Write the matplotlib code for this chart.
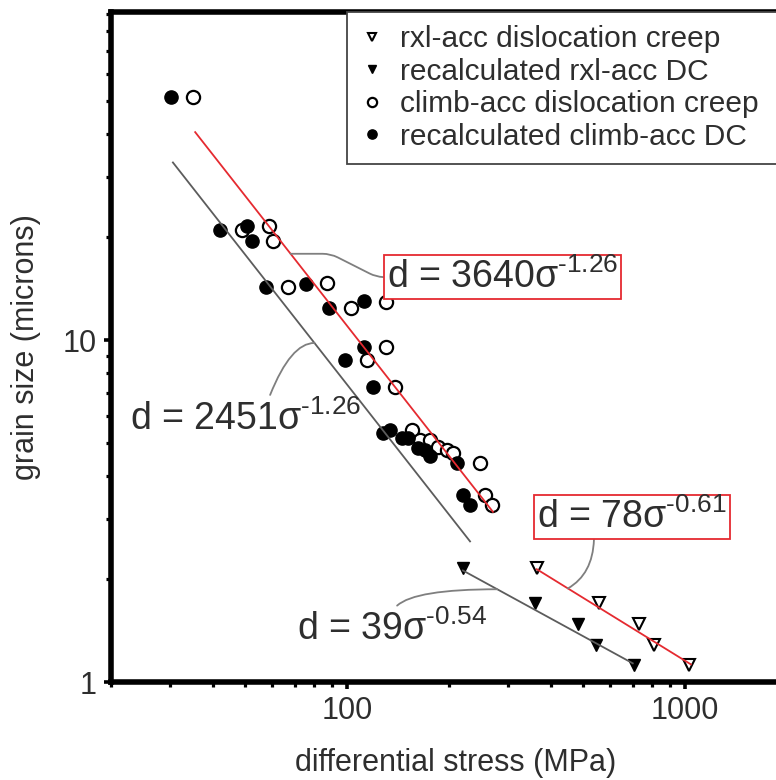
import matplotlib
matplotlib.use("Agg")
import matplotlib.pyplot as plt
import numpy as np
from matplotlib import ticker

plt.rcParams['font.family'] = ['Liberation Sans', 'DejaVu Sans']
plt.rcParams['mathtext.fontset'] = 'custom'
plt.rcParams['mathtext.rm'] = 'Liberation Sans'
plt.rcParams['mathtext.it'] = 'Liberation Sans'
plt.rcParams['mathtext.default'] = 'regular'

# climb-accommodated dislocation creep (stress in MPa, grain size in microns)
climb_stress = [35.0, 48.9, 58.8, 60.4, 66.9, 87.3, 102.8, 130.4, 130.4, 114.6,
                138.7, 155.7, 164.4, 176.0, 185.9, 197.6, 205.9, 247.5, 256.1, 268.5]
climb_size = [51.3, 21.0, 21.5, 19.5, 14.3, 14.7, 12.4, 12.9, 9.57, 8.74,
              7.29, 5.47, 5.10, 5.10, 4.87, 4.77, 4.67, 4.37, 3.52, 3.29]

# recalculated climb-accommodated DC
climb_re_stress = [30.2, 42.1, 50.6, 52.3, 57.6, 75.6, 88.5, 112.3, 112.3, 98.6, 119.4,
                   127.8, 134.0, 145.5, 151.5, 162.2, 170.1, 176.0, 211.6, 220.4, 231.1]
climb_re_size = [51.3, 21.0, 21.5, 19.5, 14.3, 14.6, 12.4, 13.0, 9.57, 8.74, 7.29,
                 5.35, 5.47, 5.17, 5.17, 4.83, 4.77, 4.58, 4.37, 3.52, 3.29]

# recrystallization-accommodated dislocation creep
rxl_stress = [364, 558, 728, 811, 1030]
rxl_size = [2.15, 1.70, 1.48, 1.28, 1.12]

# recalculated rxl-accommodated DC
rxl_re_stress = [220, 360, 483, 546, 707]
rxl_re_size = [2.15, 1.70, 1.48, 1.28, 1.12]

# power-law fits d = A * sigma^n and the stress span each one covers
climb_fit = (3640, -1.26)
climb_fit_span = (35.5, 270)
climb_re_fit = (2451, -1.26)
climb_re_fit_span = (30.5, 231)
rxl_fit = (78, -0.61)
rxl_fit_span = (364, 1040)
rxl_re_fit = (39, -0.54)
rxl_re_fit_span = (220, 700)

TEXT = '#2e2e2e'
RED = '#e52a30'
GREY = '#5c5c5c'
LEADER = '#7f7f7f'


def fit_curve(fit, span):
    s = np.geomspace(span[0], span[1], 50)
    return s, fit[0] * s ** fit[1]


def fit_label(fit):
    # plain hyphen in the exponent, the way the labels are typeset
    exp = f'{fit[1]:.2f}'.replace('-', '\u2010')
    return f'd = {fit[0]}$\\sigma^{{{exp}}}$'


fig = plt.figure(figsize=(7.76, 7.8), dpi=100)
# the frame runs off the right edge of the figure
ax = fig.add_axes([0.143, 0.1256, 0.889, 0.859])
ax.set_xscale('log')
ax.set_yscale('log')
ax.set_xlim(20, 2200)
ax.set_ylim(1, 91)

# data points
ax.plot(rxl_stress, rxl_size, ls='none', marker='v', ms=8.5, mfc='white',
        mec='black', mew=1.5, label='rxl-acc dislocation creep', zorder=3)
ax.plot(rxl_re_stress, rxl_re_size, ls='none', marker='v', ms=8.5, mfc='black',
        mec='black', label='recalculated rxl-acc DC', zorder=3)
ax.plot(climb_stress, climb_size, ls='none', marker='o', ms=9.5, mfc='white',
        mec='black', mew=1.6, label='climb-acc dislocation creep', zorder=3)
ax.plot(climb_re_stress, climb_re_size, ls='none', marker='o', ms=9.5, mfc='black',
        mec='black', label='recalculated climb-acc DC', zorder=3)

# fitted lines on top of the markers
for fit, span, col in [(climb_fit, climb_fit_span, RED),
                       (climb_re_fit, climb_re_fit_span, GREY),
                       (rxl_fit, rxl_fit_span, RED),
                       (rxl_re_fit, rxl_re_fit_span, GREY)]:
    s, d = fit_curve(fit, span)
    ax.plot(s, d, color=col, lw=1.3, zorder=4)

box = dict(boxstyle='square,pad=0.08', fc='white', ec=RED, lw=1.3)
eq_kw = dict(fontsize=27, color=TEXT, ha='left', va='baseline', zorder=5)

s0 = 68
ax.annotate(fit_label(climb_fit), xy=(s0, climb_fit[0] * s0 ** climb_fit[1]),
            xytext=(131, 14.2), bbox=box,
            arrowprops=dict(arrowstyle='-', color=LEADER, lw=1.3, shrinkA=0, shrinkB=0,
                            relpos=(0, 0.5),
                            connectionstyle='arc,angleA=180,armA=10,angleB=0,armB=40,rad=8'),
            **eq_kw)

s0 = 80
ax.annotate(fit_label(climb_re_fit), xy=(s0, climb_re_fit[0] * s0 ** climb_re_fit[1]),
            xytext=(22.8, 5.46),
            arrowprops=dict(arrowstyle='-', color=LEADER, lw=1.3, shrinkA=2, shrinkB=0,
                            relpos=(0.59, 0.9),
                            connectionstyle='angle3,angleA=70,angleB=0'),
            **eq_kw)

s0 = 450
ax.annotate(fit_label(rxl_fit), xy=(s0, rxl_fit[0] * s0 ** rxl_fit[1]),
            xytext=(365, 2.82), bbox=box,
            arrowprops=dict(arrowstyle='-', color=LEADER, lw=1.3, shrinkA=0, shrinkB=0,
                            relpos=(0.3, 0),
                            connectionstyle='angle3,angleA=-90,angleB=30'),
            **eq_kw)

s0 = 278
ax.annotate(fit_label(rxl_re_fit), xy=(s0, rxl_re_fit[0] * s0 ** rxl_re_fit[1]),
            xytext=(71.1, 1.327),
            arrowprops=dict(arrowstyle='-', color=LEADER, lw=1.3, shrinkA=2, shrinkB=0,
                            relpos=(0.5, 0.85),
                            connectionstyle='angle3,angleA=90,angleB=0'),
            **eq_kw)

# axes styling: heavy frame, short stubby outward ticks
for side in ['left', 'bottom', 'top']:
    ax.spines[side].set_linewidth(4)
    ax.spines[side].set_color('black')
ax.spines['right'].set_visible(False)
plain = ticker.FuncFormatter(lambda v, pos: f'{v:g}')
for axis in [ax.xaxis, ax.yaxis]:
    axis.set_major_formatter(plain)
    axis.set_minor_formatter(ticker.NullFormatter())
ax.tick_params(which='major', direction='out', length=5, width=2.6, color='black',
               labelsize=22, labelcolor=TEXT, pad=5)
ax.tick_params(which='minor', direction='out', length=3.5, width=2.3, color='black')

ax.set_xlabel('differential stress (MPa)', fontsize=22, color=TEXT, labelpad=16)
ax.set_ylabel('grain size (microns)', fontsize=22, color=TEXT, labelpad=16)

leg = ax.legend(loc='upper left', bbox_to_anchor=(0.342, 0.0, 0.8, 1.0), mode='expand',
                fontsize=21.5, markerscale=0.7, handlelength=0.8, handletextpad=0.52,
                labelspacing=0.15, borderpad=0.45, borderaxespad=0, fancybox=False,
                framealpha=1, edgecolor='#444444', labelcolor=TEXT)
leg.get_frame().set_linewidth(1.3)
leg.set_zorder(6)

fig.savefig('out.png', dpi=100)
